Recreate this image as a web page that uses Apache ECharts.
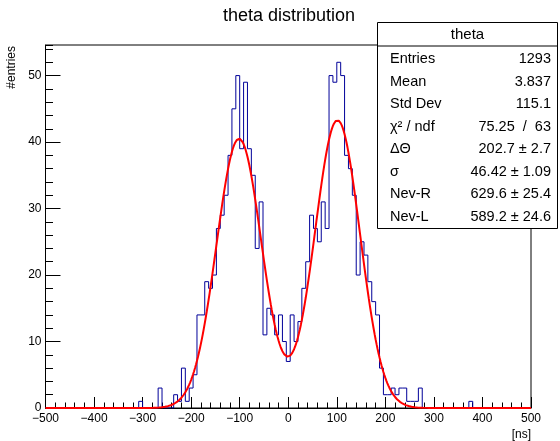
<!DOCTYPE html>
<html>
<head>
<meta charset="utf-8">
<title>theta distribution</title>
<script src="https://cdn.jsdelivr.net/npm/echarts@6/dist/echarts.min.js"></script>
<style>
  html, body { margin: 0; padding: 0; background: #ffffff; }
  #chart { width: 560px; height: 441px; }
</style>
</head>
<body>
<div id="chart"></div>
<script>
// Histogram binning: 125 bins of 8 ns between -500 and 500 ns
const binLow = -500;
const binWidth = 8;
const binCounts = [
  0, 0, 0, 0, 0, 0, 0, 0, 0, 0,
  0, 0, 0, 0, 0, 0, 0, 0, 0, 0,
  0, 0, 0, 0, 1, 0, 0, 0, 0, 3,
  0, 0, 0, 2, 1, 6, 1, 3, 5, 14,
  14, 19, 18, 20, 27, 29, 32, 38, 45, 50,
  39, 49, 39, 35, 24, 31, 11, 15, 14, 11,
  14, 10, 7, 14, 10, 13, 18, 22, 29, 27,
  25, 31, 27, 50, 49, 52, 50, 38, 36, 32,
  20, 25, 23, 19, 16, 14, 6, 2, 2, 3,
  2, 3, 3, 1, 1, 1, 3, 0, 0, 0,
  0, 0, 0, 0, 0, 0, 0, 0, 0, 1,
  0, 0, 0, 0, 0, 0, 0, 0, 0, 0,
  0, 0, 0, 0, 0
];

// Axis ranges and tick steps
const xRange = [-500, 500];
const xStep = 100;
const yMax = 54.6;      // 1.05 x highest bin
const yStep = 10;
const yMinorStep = 2;

// Double-gaussian fit result (peaks at +/- deltaTheta/2)
const fitDeltaTheta = 202.7;
const fitSigma = 46.42;
const fitNevR = 629.6;
const fitNevL = 589.2;

// Statistics box
const statTitle = 'theta';
const statLabels = ['Entries', 'Mean', 'Std Dev', 'χ² / ndf', 'ΔΘ', 'σ', 'Nev-R', 'Nev-L'];
const statValues = ['1293', '3.837', '115.1', '75.25  /  63', '202.7 ± 2.7', '46.42 ± 1.09', '629.6 ± 25.4', '589.2 ± 24.6'];

// ---- build series data ----
const histData = binCounts.map((c, i) => [binLow + i * binWidth, c]);
histData.push([binLow + binCounts.length * binWidth, binCounts[binCounts.length - 1]]);

function fitValue(x) {
  const norm = binWidth / (fitSigma * Math.sqrt(2 * Math.PI));
  const gR = Math.exp(-Math.pow(x - fitDeltaTheta / 2, 2) / (2 * fitSigma * fitSigma));
  const gL = Math.exp(-Math.pow(x + fitDeltaTheta / 2, 2) / (2 * fitSigma * fitSigma));
  return norm * (fitNevR * gR + fitNevL * gL);
}
const fitData = [];
for (let k = 0; k <= 500; k++) {
  const x = xRange[0] + k * (xRange[1] - xRange[0]) / 500;
  fitData.push([x, fitValue(x)]);
}

const FONT = '"Liberation Sans", Arial, Helvetica, sans-serif';
const minus = v => String(v).replace('-', '\u2212');

// ---- statistics box graphics ----
const boxX = 377.5, boxY = 22.5, boxW = 180, boxH = 206;
const statElements = [
  { type: 'rect', shape: { x: boxX, y: boxY, width: boxW, height: boxH },
    style: { fill: '#ffffff', stroke: '#000000', lineWidth: 1 } },
  { type: 'line', shape: { x1: boxX, y1: 46, x2: boxX + boxW, y2: 46 },
    style: { stroke: '#000000', lineWidth: 1 } },
  { type: 'text', x: boxX + boxW / 2, y: 34.5,
    style: { text: statTitle, fill: '#000', fontSize: 15, fontFamily: FONT, align: 'center', verticalAlign: 'middle' } }
];
statLabels.forEach((lab, i) => {
  const y = 59.3 + i * 22.48;
  statElements.push({ type: 'text', x: 390, y: y,
    style: { text: lab, fill: '#000', fontSize: 14.5, fontFamily: FONT, align: 'left', verticalAlign: 'middle' } });
  statElements.push({ type: 'text', x: 551, y: y,
    style: { text: statValues[i], fill: '#000', fontSize: 14.5, fontFamily: FONT, align: 'right', verticalAlign: 'middle' } });
});

const chart = echarts.init(document.getElementById('chart'), null, { renderer: 'canvas' });
chart.setOption({
  animation: false,
  backgroundColor: '#ffffff',
  textStyle: { fontFamily: FONT },
  grid: { left: 45.5, right: 29, top: 45, bottom: 33, show: true, borderColor: '#000', borderWidth: 1 },
  xAxis: {
    type: 'value', min: xRange[0], max: xRange[1], interval: xStep,
    axisLine: { show: true, onZero: false, lineStyle: { color: '#000', width: 1 } },
    axisTick: { show: true, inside: true, length: 11, lineStyle: { color: '#000' } },
    minorTick: { show: true, splitNumber: 5, length: 5.5, lineStyle: { color: '#000' } },
    axisLabel: { color: '#000', fontSize: 12, margin: 5, fontFamily: FONT, formatter: minus,
                 showMinLabel: true, showMaxLabel: true },
    splitLine: { show: false }
  },
  yAxis: [
    {
      type: 'value', min: 0, max: yMax, interval: yStep, position: 'left',
      axisLine: { show: true, onZero: false, lineStyle: { color: '#000', width: 1 } },
      axisTick: { show: true, inside: true, length: 15, lineStyle: { color: '#000' } },
      axisLabel: { color: '#000', fontSize: 12, margin: 4, fontFamily: FONT, showMaxLabel: false },
      splitLine: { show: false }
    },
    {
      type: 'value', min: 0, max: yMax, interval: yMinorStep, position: 'left',
      axisLine: { show: false, onZero: false },
      axisTick: { show: true, inside: true, length: 7.5, lineStyle: { color: '#000' } },
      axisLabel: { show: false },
      splitLine: { show: false }
    }
  ],
  series: [
    {
      name: 'theta', type: 'line', data: histData, step: 'end', symbol: 'none',
      lineStyle: { color: '#000099', width: 1 }, z: 2
    },
    {
      name: 'fit', type: 'line', data: fitData, symbol: 'none', smooth: false,
      lineStyle: { color: '#ff0000', width: 2 }, z: 3
    }
  ],
  graphic: [
    { type: 'text', x: 289, y: 16, z: 10,
      style: { text: 'theta distribution', fill: '#000', fontSize: 18, fontFamily: FONT, align: 'center', verticalAlign: 'middle' } },
    { type: 'text', x: 12, y: 46, rotation: Math.PI / 2, z: 10,
      style: { text: '#entries', fill: '#000', fontSize: 12, fontFamily: FONT, align: 'right', verticalAlign: 'middle' } },
    { type: 'text', x: 531, y: 435, z: 10,
      style: { text: '[ns]', fill: '#000', fontSize: 12, fontFamily: FONT, align: 'right', verticalAlign: 'middle' } },
    { type: 'group', z: 100, children: statElements }
  ]
});
</script>
</body>
</html>
